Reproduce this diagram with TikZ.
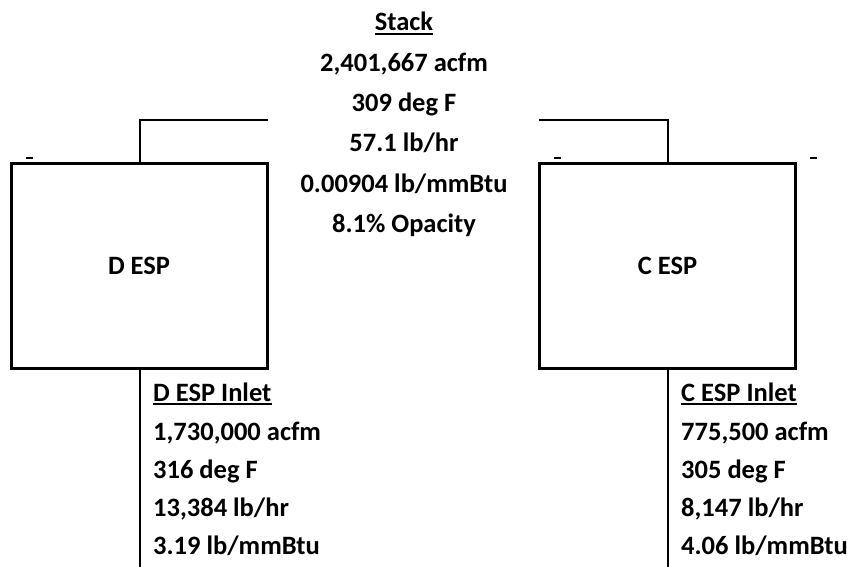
\documentclass[tikz,border=0pt]{standalone}
\usepackage{fontspec}
\setmainfont{Carlito}
\begin{document}
\begin{tikzpicture}[x=1pt,y=-1pt,
  txt/.style={inner sep=0pt,font=\fontsize{26.5}{30}\selectfont\bfseries},
  esp/.style={draw,line width=3pt,minimum width=256pt,minimum height=205pt,inner sep=0pt,font=\fontsize{26.5}{30}\selectfont\bfseries},
  pipe/.style={line width=2pt},
  tick/.style={line width=2pt},
  uline/.style={line width=1.8pt}]
\useasboundingbox (0,0) rectangle (851,567);
% boxes
\node[esp] (D) at (139,265.5) {D ESP};
\node[esp] (C) at (667.5,265.5) {C ESP};
% coordinates for free ends
\coordinate (DtopT) at (140,120);
\coordinate (DtopE) at (268,120);
\coordinate (CtopT) at (668,120);
\coordinate (CtopE) at (539,120);
\coordinate (Dbot) at (140,567);
\coordinate (Cbot) at (668,567);
\draw[pipe] (D.north -| DtopT) -- (DtopT) -- (DtopE);
\draw[pipe] (C.north -| CtopT) -- (CtopT) -- (CtopE);
\draw[pipe] (D.south -| Dbot) -- (Dbot);
\draw[pipe] (C.south -| Cbot) -- (Cbot);
% ticks
\coordinate (t1a) at (26,158); \coordinate (t1b) at (33,158);
\coordinate (t2a) at (554,158); \coordinate (t2b) at (561,158);
\coordinate (t3a) at (810,158); \coordinate (t3b) at (817,158);
\draw[tick] (t1a) -- (t1b);
\draw[tick] (t2a) -- (t2b);
\draw[tick] (t3a) -- (t3b);
% stack text
\node[txt,anchor=base] (s0) at (404,31) {Stack};
\draw[uline] ([yshift=-3pt]s0.base west) -- ([yshift=-3pt]s0.base east);
\node[txt,anchor=base] (s1) at (404,72) {2,401,667 acfm};
\node[txt,anchor=base] (s2) at (404,112) {309 deg F};
\node[txt,anchor=base] (s3) at (404,152) {57.1 lb/hr};
\node[txt,anchor=base] (s4) at (404,192) {0.00904 lb/mmBtu};
\node[txt,anchor=base] (s5) at (404,232) {8.1\% Opacity};
% D inlet
\node[txt,anchor=base west] (d0) at (153,401) {D ESP Inlet};
\draw[uline] ([yshift=-3pt]d0.base west) -- ([yshift=-3pt]d0.base east);
\node[txt,anchor=base west] (d1) at (153,440) {1,730,000 acfm};
\node[txt,anchor=base west] (d2) at (153,478) {316 deg F};
\node[txt,anchor=base west] (d3) at (153,516) {13,384 lb/hr};
\node[txt,anchor=base west] (d4) at (153,554) {3.19 lb/mmBtu};
% C inlet
\node[txt,anchor=base west] (c0) at (681,401) {C ESP Inlet};
\draw[uline] ([yshift=-3pt]c0.base west) -- ([yshift=-3pt]c0.base east);
\node[txt,anchor=base west] (c1) at (681,440) {775,500 acfm};
\node[txt,anchor=base west] (c2) at (681,478) {305 deg F};
\node[txt,anchor=base west] (c3) at (681,516) {8,147 lb/hr};
\node[txt,anchor=base west] (c4) at (681,554) {4.06 lb/mmBtu};
\end{tikzpicture}
\end{document}
